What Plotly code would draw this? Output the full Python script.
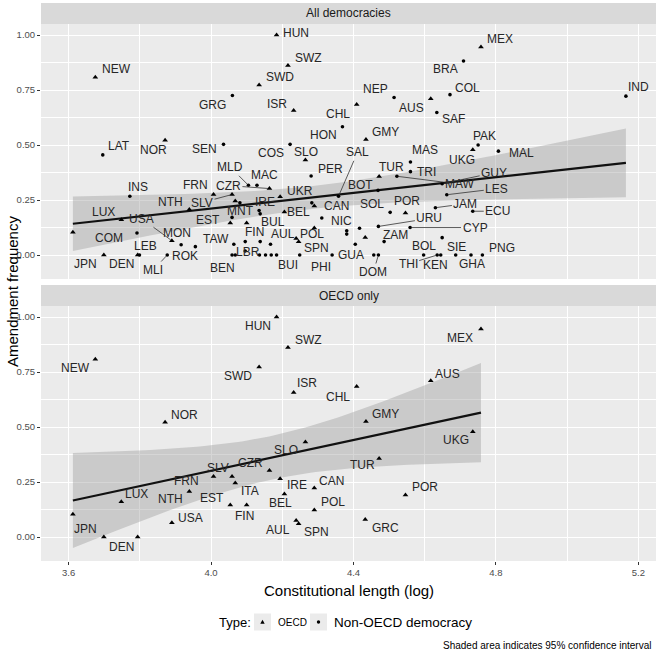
import numpy as np
import plotly.graph_objects as go

# ---------------- data ----------------
OECD_CODES = ["NEW", "", "JPN", "DEN", "LUX", "NTH", "USA", "NOR", "FRN", "SLV", "ITA", "CZR",
              "EST", "FIN", "SWD", "HUN", "SWZ", "ISR", "IRE", "BEL", "AUL", "SPN", "SLO", "CAN",
              "POL", "CHL", "GMY", "GRC", "TUR", "POR", "AUS", "UKG", "MEX"]
OECD_X = [3.675, 3.612, 3.699, 3.794, 3.748, 3.939, 3.890, 3.871, 4.007, 4.059, 4.068, 4.164,
          4.054, 4.100, 4.135, 4.184, 4.216, 4.232, 4.194, 4.206, 4.239, 4.246, 4.265, 4.290,
          4.290, 4.409, 4.435, 4.433, 4.472, 4.546, 4.617, 4.735, 4.758]
OECD_Y = [0.808, 0.103, 0.0, 0.0, 0.16, 0.207, 0.065, 0.522, 0.275, 0.275, 0.246, 0.302,
          0.145, 0.145, 0.773, 1.0, 0.861, 0.657, 0.265, 0.195, 0.075, 0.06, 0.432, 0.223,
          0.123, 0.684, 0.525, 0.08, 0.357, 0.191, 0.71, 0.479, 0.945]

NON_CODES = ["GRG", "LAT", "SEN", "INS", "COM", "MON", "LEB", "MLI", "ROK", "MLD", "MAC", "COS",
             "HON", "NEP", "SAF", "BRA", "COL", "IND", "PAK", "MAL", "PER", "MAS", "TRI", "SAL",
             "UKR", "MNT", "BUL", "BOT", "MAW", "GUY", "LES", "JAM", "ECU", "URU", "CYP", "ZAM",
             "SOL", "NIC", "GUA", "DOM", "BOL", "THI", "KEN", "SIE", "GHA", "PNG", "TAW", "BEN",
             "LBR", "BUI", "PHI",
             "", "", "", "", "", "", "", "", "", "", "", "", "", "", ""]
NON_X = [4.060, 3.696, 4.035, 3.772, 3.792, 3.916, 3.799, 3.877, 3.956, 4.105, 4.129, 4.222,
         4.369, 4.514, 4.634, 4.709, 4.671, 5.165, 4.750, 4.807, 4.281, 4.560, 4.560, 4.358,
         4.283, 4.135, 4.138, 4.469, 4.522, 4.649, 4.662, 4.630, 4.735, 4.470, 4.559, 4.486,
         4.503, 4.311, 4.340, 4.470, 4.597, 4.635, 4.645, 4.687, 4.730, 4.762, 4.064, 4.059,
         4.068, 4.184, 4.249,
         4.059, 4.081, 4.096, 4.138, 4.167, 4.096, 4.136, 4.153, 4.169, 4.381, 4.381, 4.417,
         4.405, 4.457, 4.649]
NON_Y = [0.725, 0.455, 0.503, 0.267, 0.100, 0.047, 0.0, 0.0, 0.038, 0.317, 0.317, 0.503,
         0.583, 0.716, 0.648, 0.882, 0.729, 0.722, 0.500, 0.472, 0.359, 0.423, 0.379, 0.267,
         0.237, 0.202, 0.187, 0.294, 0.358, 0.324, 0.274, 0.215, 0.199, 0.130, 0.125, 0.061,
         0.194, 0.168, 0.0, 0.0, 0.0, 0.0, 0.0, 0.0, 0.0, 0.0, 0.049, 0.0,
         0.0, 0.0, 0.0,
         0.171, 0.237, 0.061, 0.061, 0.049, 0.018, 0.0, 0.0, 0.0, 0.11, 0.095, 0.122,
         0.049, 0.0, 0.079]

PANEL_TITLES = ["All democracies", "OECD only"]
Y_TICKS = [0.0, 0.25, 0.5, 0.75, 1.0]
X_TICKS = [3.6, 4.0, 4.4, 4.8, 5.2]

# ---------------- label placement (pixel offsets: dx right, dy down, segment) ----------------
LABEL_TOP = {
    "NEW": (21, -8), "HUN": (19, -2), "SWZ": (21, -8), "SWD": (21, -8), "GRG": (-20, 9),
    "ISR": (-17, -6), "CHL": (-19, 9), "NEP": (-19, -8), "AUS": (-19, 9), "BRA": (-18, 8),
    "MEX": (19, -8), "COL": (18, -7), "SAF": (17, 7), "IND": (13, -9), "PAK": (6, -9),
    "MAL": (23, 2), "UKG": (-11, 10), "HON": (-19, 8), "GMY": (20, -8), "LAT": (16, -9),
    "NOR": (-12, 10), "SEN": (-19, 5), "COS": (-19, 9), "SLO": (1, -8), "PER": (19, -7),
    "SAL": (19, -44, True), "MAS": (15, -12), "TRI": (16, 0), "TUR": (12, -9),
    "GUY": (52, -11, True), "MAW": (63, 8, True), "LES": (50, -6, True), "JAM": (30, -4, True),
    "ECU": (25, 0, True), "CYP": (65, 0, True), "URU": (51, -8, True), "POR": (2, -12),
    "SOL": (-18, -8), "BOT": (-18, -5), "CAN": (22, 0), "UKR": (-12, -12), "IRE": (-15, 5),
    "BEL": (14, 0), "BUL": (13, 8), "MNT": (-19, 0), "MAC": (8, -10), "MLD": (-18, -18, True),
    "CZR": (-41, -3, True), "FRN": (-18, -10), "SLV": (-30, 8, True), "NTH": (-19, -7),
    "INS": (8, -9), "LUX": (-18, -8), "USA": (-30, -22, True), "EST": (-22, -3), "FIN": (8, 9),
    "COM": (-28, 5), "MON": (-4, -12), "LEB": (6, -9), "JPN": (-18, 9), "DEN": (-16, 9),
    "MLI": (-14, 15, True), "ROK": (-10, 9), "TAW": (-18, -5), "BEN": (-10, 13), "LBR": (13, -3),
    "AUL": (-13, -5), "SPN": (18, 6), "POL": (-2, 6), "BUI": (11, 10), "PHI": (21, 12),
    "GUA": (19, 0), "DOM": (-5, 17, True), "NIC": (20, 3), "ZAM": (11, -7), "BOL": (0, -9),
    "THI": (-29, 9, True), "KEN": (-5, 10), "SIE": (1, -8), "GHA": (1, 9), "PNG": (20, -7),
}
LABEL_BOT = {
    "NEW": (-20, 9), "HUN": (-19, 9), "SWZ": (21, -8), "SWD": (-21, 9), "NOR": (19, -7),
    "ISR": (13, -9), "CHL": (-19, 10), "AUS": (17, -7), "MEX": (-21, 9), "GMY": (20, -8),
    "UKG": (-17, 8), "SLO": (-19, 8), "TUR": (-17, 7), "CZR": (-19, -8), "SLV": (-14, -9),
    "FRN": (-27, 4), "ITA": (15, 8), "LUX": (15, -8), "NTH": (-19, 8), "EST": (-18, -7),
    "FIN": (-2, 11), "USA": (19, -5), "JPN": (-18, -8), "DEN": (-16, 10), "IRE": (17, 6),
    "CAN": (17, -7), "BEL": (-4, 9), "POL": (19, -8), "AUL": (-18, 9), "SPN": (18, 8),
    "GRC": (20, 9), "POR": (20, -8),
}

FONT = "Liberation Sans, Arial, Helvetica, sans-serif"
LABEL_FONT = dict(family=FONT, size=12, color="#262626")


def t_quantile(df):
    z = 1.959963985
    return (z + (z**3 + z) / (4 * df) + (5 * z**5 + 16 * z**3 + 3 * z) / (96 * df**2)
            + (3 * z**7 + 19 * z**5 + 17 * z**3 - 15 * z) / (384 * df**3))


def lm_fit(xs, ys):
    xs = np.asarray(xs, float)
    ys = np.asarray(ys, float)
    n = len(xs)
    b1, b0 = np.polyfit(xs, ys, 1)
    resid = ys - (b0 + b1 * xs)
    s = np.sqrt((resid**2).sum() / (n - 2))
    xbar = xs.mean()
    sxx = ((xs - xbar) ** 2).sum()
    g = np.linspace(xs.min(), xs.max(), 80)
    yh = b0 + b1 * g
    se = s * np.sqrt(1.0 / n + (g - xbar) ** 2 / sxx)
    t = t_quantile(n - 2)
    return g, yh, yh - t * se, yh + t * se


def label_annots(codes, xs, ys, offsets, xref, yref):
    out = []
    for c, x, y in zip(codes, xs, ys):
        if not c or c not in offsets:
            continue
        o = offsets[c]
        dx, dy = o[0], o[1]
        seg = len(o) > 2 and o[2]
        if seg:
            out.append(dict(x=x, y=y, xref=xref, yref=yref, text=c, showarrow=True,
                            ax=dx, ay=dy, arrowhead=0, arrowwidth=0.8, arrowcolor="#333333",
                            standoff=1.5, font=LABEL_FONT))
        else:
            out.append(dict(x=x, y=y, xref=xref, yref=yref, text=c, showarrow=False,
                            xshift=dx, yshift=-dy, xanchor="center", yanchor="middle",
                            font=LABEL_FONT))
    return out


fig = go.Figure()

all_x = OECD_X + NON_X
all_y = OECD_Y + NON_Y

panels = [
    ("x", "y", all_x, all_y),
    ("x2", "y2", OECD_X, OECD_Y),
]
BAND = "rgba(153,153,153,0.4)"
for xa, ya, px, py in panels:
    g, yh, lo, hi = lm_fit(px, py)
    fig.add_trace(go.Scatter(x=np.concatenate([g, g[::-1]]), y=np.concatenate([hi, lo[::-1]]),
                             fill="toself", fillcolor=BAND, line=dict(width=0), mode="lines",
                             hoverinfo="skip", showlegend=False, xaxis=xa, yaxis=ya))
    fig.add_trace(go.Scatter(x=g, y=yh, mode="lines", line=dict(color="#111111", width=2.2),
                             showlegend=False, xaxis=xa, yaxis=ya))

# points
fig.add_trace(go.Scatter(x=OECD_X, y=OECD_Y, mode="markers",
                         marker=dict(symbol="triangle-up", size=5, color="black"),
                         showlegend=False, xaxis="x", yaxis="y"))
fig.add_trace(go.Scatter(x=NON_X, y=NON_Y, mode="markers",
                         marker=dict(symbol="circle", size=3.6, color="black"),
                         showlegend=False, xaxis="x", yaxis="y"))
fig.add_trace(go.Scatter(x=OECD_X, y=OECD_Y, mode="markers",
                         marker=dict(symbol="triangle-up", size=5, color="black"),
                         showlegend=False, xaxis="x2", yaxis="y2"))

annots = []
annots += label_annots(OECD_CODES, OECD_X, OECD_Y, LABEL_TOP, "x", "y")
annots += label_annots(NON_CODES, NON_X, NON_Y, LABEL_TOP, "x", "y")
annots += label_annots(OECD_CODES, OECD_X, OECD_Y, LABEL_BOT, "x2", "y2")

# geometry (pixels)
W, H = 658, 655
ML, MR, MT, MB = 41, 2, 3, 94
PW = W - ML - MR
PH = H - MT - MB
BOTTOM_PX = H - MB


def py2paper(p):
    return (BOTTOM_PX - p) / PH


def px2paper(p):
    return (p - ML) / PW


top_dom = [py2paper(279), py2paper(24)]
bot_dom = [0.0, py2paper(306)]
strip_top = [py2paper(24), py2paper(3)]
strip_bot = [py2paper(306), py2paper(285)]

shapes = []
for (y0, y1), title in zip([strip_top, strip_bot], PANEL_TITLES):
    shapes.append(dict(type="rect", xref="paper", yref="paper", x0=0, x1=1, y0=y0, y1=y1,
                       fillcolor="#D9D9D9", line=dict(width=0), layer="below"))
    annots.append(dict(x=0.5, y=(y0 + y1) / 2, xref="paper", yref="paper", text=title,
                       showarrow=False, xanchor="center", yanchor="middle",
                       font=dict(family=FONT, size=12, color="#1A1A1A")))

# axis titles
annots.append(dict(x=px2paper(12), y=py2paper(292), xref="paper", yref="paper",
                   text="Amendment frequency", textangle=-90, showarrow=False,
                   xanchor="center", yanchor="middle", font=dict(family=FONT, size=15, color="black")))
annots.append(dict(x=0.5, y=py2paper(590), xref="paper", yref="paper",
                   text="Constitutional length (log)", showarrow=False,
                   xanchor="center", yanchor="middle", font=dict(family=FONT, size=15, color="black")))

# legend (manual)
LEG_Y = 622
annots.append(dict(x=px2paper(217), y=py2paper(LEG_Y), xref="paper", yref="paper", text="Type:",
                   showarrow=False, xanchor="left", yanchor="middle",
                   font=dict(family=FONT, size=13, color="black")))
for bx0 in (254, 310):
    shapes.append(dict(type="rect", xref="paper", yref="paper", x0=px2paper(bx0), x1=px2paper(bx0 + 17),
                       y0=py2paper(LEG_Y + 8.5), y1=py2paper(LEG_Y - 8.5),
                       fillcolor="#EBEBEB", line=dict(width=0)))
cx = 262.5
tri = "M {},{} L {},{} L {},{} Z".format(px2paper(cx - 2.2), py2paper(LEG_Y + 1.8),
                                         px2paper(cx + 2.2), py2paper(LEG_Y + 1.8),
                                         px2paper(cx), py2paper(LEG_Y - 2.2))
shapes.append(dict(type="path", xref="paper", yref="paper", path=tri, fillcolor="black",
                   line=dict(width=0)))
cx2 = 318.5
shapes.append(dict(type="circle", xref="paper", yref="paper", x0=px2paper(cx2 - 1.7), x1=px2paper(cx2 + 1.7),
                   y0=py2paper(LEG_Y + 1.7), y1=py2paper(LEG_Y - 1.7), fillcolor="black",
                   line=dict(width=0)))
annots.append(dict(x=px2paper(276), y=py2paper(LEG_Y), xref="paper", yref="paper", text="OECD",
                   showarrow=False, xanchor="left", yanchor="middle",
                   font=dict(family=FONT, size=10, color="black")))
annots.append(dict(x=px2paper(332), y=py2paper(LEG_Y), xref="paper", yref="paper",
                   text="Non-OECD democracy", showarrow=False, xanchor="left", yanchor="middle",
                   font=dict(family=FONT, size=13.5, color="black")))
annots.append(dict(x=px2paper(653), y=py2paper(645), xref="paper", yref="paper",
                   text="Shaded area indicates 95% confidence interval", showarrow=False,
                   xanchor="right", yanchor="middle", font=dict(family=FONT, size=10, color="black")))

XR = [3.5225, 5.2495]
YR = [-0.109, 1.05]
grid = dict(showgrid=True, gridcolor="white", gridwidth=1.1, zeroline=False, showline=False)
common_x = dict(range=XR, tickvals=X_TICKS, ticktext=["%.1f" % v for v in X_TICKS],
                minor=dict(tickvals=[3.8, 4.2, 4.6, 5.0], showgrid=True, gridcolor="white", gridwidth=0.5, ticks=""),
                **grid)
common_y = dict(range=YR, tickvals=Y_TICKS, ticktext=["%.2f" % v for v in Y_TICKS],
                ticks="outside", ticklen=3, tickcolor="#333333", tickwidth=1,
                tickfont=dict(family=FONT, size=9.5, color="#4D4D4D"),
                minor=dict(tickvals=[0.125, 0.375, 0.625, 0.875], showgrid=True, gridcolor="white", gridwidth=0.5, ticks=""),
                **grid)

fig.update_layout(
    width=W, height=H,
    margin=dict(l=ML, r=MR, t=MT, b=MB),
    paper_bgcolor="white", plot_bgcolor="#EBEBEB",
    font=dict(family=FONT),
    showlegend=False,
    hovermode=False,
    xaxis=dict(domain=[0, 1], anchor="y", showticklabels=False, ticks="", **common_x),
    xaxis2=dict(domain=[0, 1], anchor="y2", showticklabels=True, ticks="outside", ticklen=3,
                tickcolor="#333333", tickwidth=1, tickfont=dict(family=FONT, size=9.5, color="#4D4D4D"),
                **common_x),
    yaxis=dict(domain=top_dom, anchor="x", **common_y),
    yaxis2=dict(domain=bot_dom, anchor="x2", **common_y),
    shapes=shapes,
    annotations=annots,
)

fig.write_html("out.html", config={"displayModeBar": False},
               post_script="document.body.style.margin='0px';document.body.style.padding='0px';")
